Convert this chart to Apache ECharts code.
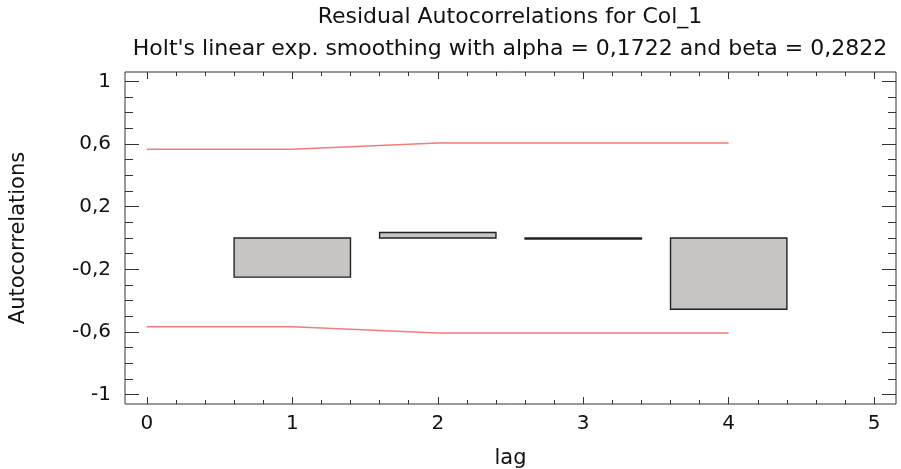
<!DOCTYPE html>
<html>
<head>
<meta charset="utf-8">
<title>Residual Autocorrelations for Col_1</title>
<script src="https://cdn.jsdelivr.net/npm/echarts@6/dist/echarts.min.js"></script>
<style>
  html, body { margin: 0; padding: 0; background: #fff; }
  #chart { width: 901px; height: 469px; }
</style>
</head>
<body>
<div id="chart"></div>
<script>
// tick positions
const lagTicks = [0, 1, 2, 3, 4, 5]
const lagMinorTicks = [0.2, 0.4, 0.6, 0.8, 1.2, 1.4, 1.6, 1.8, 2.2, 2.4, 2.6, 2.8, 3.2, 3.4, 3.6, 3.8, 4.2, 4.4, 4.6, 4.8]
const acfTicks = [-1, -0.6, -0.2, 0.2, 0.6, 1]
const acfMinorTicks = [-0.9, -0.8, -0.7, -0.5, -0.4, -0.3, -0.1, 0, 0.1, 0.3, 0.4, 0.5, 0.7, 0.8, 0.9]

// residual autocorrelations
const lags = [1, 2, 3, 4]
const residualAcf = [-0.25, 0.035, -0.006, -0.455]

// probability limits
const limitLags = [0, 1, 2, 3, 4]
const upperLimit = [0.567, 0.567, 0.607, 0.607, 0.607]
const lowerLimit = [-0.567, -0.567, -0.607, -0.607, -0.607]

const FONT = 'DejaVu Sans'
const TEXT = '#111'
const FRAME = '#333'

const fmt = v => String(Math.round(v * 10) / 10).replace('.', ',')

function tickAxis (position, ticks, len, withLabels) {
  return {
    type: 'value',
    position: position,
    min: -0.15,
    max: 5.15,
    axisLine: { show: false, onZero: false },
    splitLine: { show: false },
    axisTick: { show: true, inside: true, length: len, customValues: ticks, lineStyle: { color: FRAME, width: 1 } },
    axisLabel: withLabels
      ? { show: true, customValues: ticks, margin: 10, fontFamily: FONT, fontSize: 20, color: TEXT }
      : { show: false }
  }
}

function yTickAxis (position, ticks, len, withLabels) {
  return {
    type: 'value',
    position: position,
    min: -1.06,
    max: 1.06,
    axisLine: { show: false, onZero: false },
    splitLine: { show: false },
    axisTick: { show: true, inside: true, length: len, customValues: ticks, lineStyle: { color: FRAME, width: 1 } },
    axisLabel: withLabels
      ? { show: true, customValues: ticks, margin: 14, fontFamily: FONT, fontSize: 20, color: TEXT, formatter: fmt }
      : { show: false }
  }
}

const xMain = tickAxis('bottom', lagTicks, 7, true)
xMain.name = 'lag'
xMain.nameLocation = 'middle'
xMain.nameGap = 44
xMain.nameTextStyle = { fontFamily: FONT, fontSize: 21, color: TEXT }

const yMain = yTickAxis('left', acfTicks, 14, true)
yMain.name = 'Autocorrelations'
yMain.nameLocation = 'middle'
yMain.nameGap = 96
yMain.nameTextStyle = { fontFamily: FONT, fontSize: 21, color: TEXT }

const option = {
  animation: false,
  backgroundColor: '#fff',
  title: [{
    text: 'Residual Autocorrelations for Col_1',
    left: 510,
    top: 6,
    padding: 0,
    textAlign: 'center',
    textStyle: { fontFamily: FONT, fontSize: 22, fontWeight: 'normal', color: TEXT }
  }, {
    text: "Holt's linear exp. smoothing with alpha = 0,1722 and beta = 0,2822",
    left: 510,
    top: 38,
    padding: 0,
    textAlign: 'center',
    textStyle: { fontFamily: FONT, fontSize: 22, fontWeight: 'normal', color: TEXT }
  }],
  grid: {
    left: 125,
    right: 5,
    top: 72,
    bottom: 65,
    outerBoundsMode: 'none',
    containLabel: false,
    show: true,
    borderColor: FRAME,
    borderWidth: 1,
    backgroundColor: '#fff'
  },
  xAxis: [
    xMain,
    tickAxis('bottom', lagMinorTicks, 4, false),
    tickAxis('top', lagTicks, 7, false),
    tickAxis('top', lagMinorTicks, 4, false)
  ],
  yAxis: [
    yMain,
    yTickAxis('left', acfMinorTicks, 8, false),
    yTickAxis('right', acfTicks, 14, false),
    yTickAxis('right', acfMinorTicks, 8, false)
  ],
  series: [{
    type: 'line',
    name: 'upper limit',
    data: limitLags.map((l, i) => [l, upperLimit[i]]),
    showSymbol: false,
    lineStyle: { color: '#f07c7c', width: 1.5 },
    z: 3
  }, {
    type: 'line',
    name: 'lower limit',
    data: limitLags.map((l, i) => [l, lowerLimit[i]]),
    showSymbol: false,
    lineStyle: { color: '#f07c7c', width: 1.5 },
    z: 3
  }, {
    type: 'custom',
    name: 'autocorrelations',
    data: lags.map((l, i) => [l, residualAcf[i]]),
    renderItem: (params, api) => {
      const lag = api.value(0)
      const v = api.value(1)
      const p0 = api.coord([lag - 0.4, 0])
      const p1 = api.coord([lag + 0.4, v])
      return {
        type: 'rect',
        shape: {
          x: p0[0],
          y: Math.min(p0[1], p1[1]),
          width: p1[0] - p0[0],
          height: Math.abs(p1[1] - p0[1])
        },
        style: { fill: '#c6c5c3', stroke: '#222', lineWidth: 1.4 }
      }
    },
    z: 4
  }]
}

const chart = echarts.init(document.getElementById('chart'))
chart.setOption(option)
</script>
</body>
</html>
